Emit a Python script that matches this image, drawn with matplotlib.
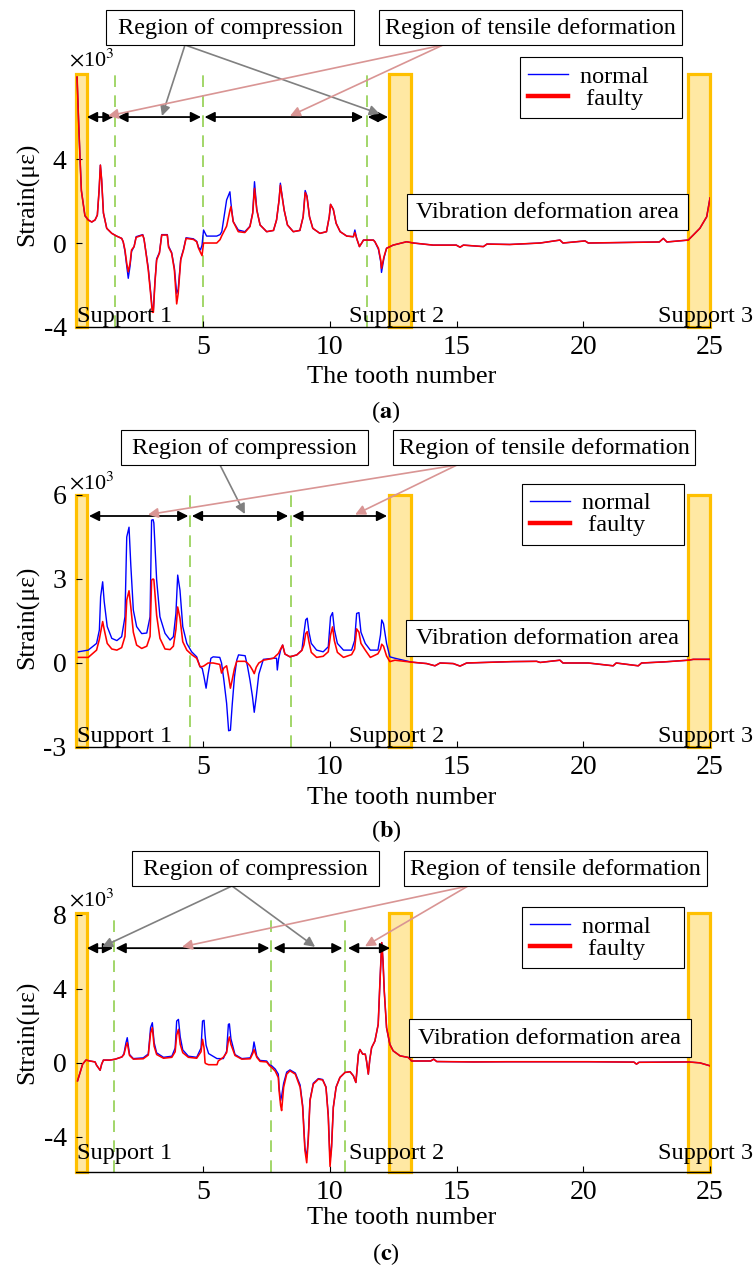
import matplotlib.pyplot as plt
from matplotlib.patches import Rectangle
from matplotlib.lines import Line2D

plt.rcParams['font.family'] = ['Liberation Serif', 'DejaVu Serif']
plt.rcParams['mathtext.fontset'] = 'stix'
plt.rcParams['axes.unicode_minus'] = False
FS = 17.5      # annotation text
TICK_FS = 20
XLAB_FS = 19
YLAB_FS = 18.5

# ---------------- data (strain in 10^3 microstrain) ----------------
tooth_a = [0.03, 0.1, 0.15, 0.2, 0.34, 0.47, 0.61, 0.74, 0.83, 0.9,
           0.95, 1.0, 1.07, 1.2, 1.4, 1.59, 1.79, 1.85, 1.92, 1.99,
           2.05, 2.12, 2.18, 2.28, 2.36, 2.62, 2.67, 2.75, 2.84, 2.93,
           3.0, 3.04, 3.1, 3.17, 3.28, 3.37, 3.59, 3.64, 3.76, 3.87,
           3.96, 4.02, 4.12, 4.23, 4.33, 4.62, 4.75, 4.82, 4.9, 4.96,
           5.02, 5.14, 5.54, 5.67, 5.74, 5.93, 6.06, 6.1, 6.19, 6.39,
           6.65, 6.85, 6.96, 7.03, 7.12, 7.25, 7.51, 7.78, 7.9, 8.0,
           8.05, 8.2, 8.33, 8.56, 8.82, 8.95, 9.03, 9.1, 9.2, 9.33,
           9.61, 9.87, 9.98, 10.03, 10.14, 10.25, 10.41, 10.67, 10.93, 10.99,
           11.06, 11.17, 11.26, 11.33, 11.72, 11.78, 11.92, 12.01, 12.04, 12.14,
           12.24, 12.5, 13.03, 13.3, 14.08, 14.99, 15.14, 15.27, 16.06, 16.2,
           17.1, 18.3, 19.08, 19.2, 20.07, 20.2, 23.0, 23.16, 23.3, 24.14,
           24.34, 24.6, 24.87, 25.0]
normal_a = [7.9, 5.5, 3.95, 2.5, 1.3, 1.1, 1.0, 1.1, 1.33, 2.52,
            3.71, 3.0, 1.43, 0.7, 0.46, 0.33, 0.22, 0.06, -0.4, -1.1,
            -1.68, -1.1, -0.4, -0.17, 0.3, 0.4, 0.2, -0.45, -1.2, -2.3,
            -3.2, -3.2, -1.9, -0.75, -0.45, 0.4, 0.4, -0.15, -0.45, -1.2,
            -2.4, -2.2, -0.75, -0.3, 0.25, 0.2, 0.08, -0.2, -0.33, -0.1,
            0.62, 0.33, 0.33, 0.4, 0.54, 2.05, 2.44, 1.9, 1.02, 0.62,
            0.54, 0.8, 1.45, 2.92, 1.6, 0.86, 0.54, 0.6, 1.1, 2.05,
            2.85, 1.57, 0.86, 0.54, 0.6, 1.25, 2.5, 2.25, 1.25, 0.7,
            0.46, 0.54, 1.25, 1.84, 1.6, 0.94, 0.54, 0.33, 0.3, 0.62,
            0.22, -0.17, 0.0, 0.14, 0.14, 0.06, -0.3, -0.9, -1.4, -0.7,
            -0.25, -0.1, 0.06, 0.0, -0.1, -0.1, -0.2, -0.1, -0.17, -0.05,
            -0.07, 0.0, 0.14, 0.0, 0.1, 0.0, 0.05, 0.22, 0.05, 0.14,
            0.38, 0.7, 1.25, 2.14]
faulty_a = [7.9, 5.5, 3.95, 2.5, 1.3, 1.1, 1.0, 1.1, 1.33, 2.52,
            3.71, 3.0, 1.43, 0.7, 0.46, 0.33, 0.22, 0.06, -0.33, -0.97,
            -1.37, -0.97, -0.33, -0.17, 0.27, 0.38, 0.2, -0.48, -1.29, -2.4,
            -3.3, -3.3, -1.92, -0.81, -0.48, 0.38, 0.38, -0.2, -0.48, -1.29,
            -2.9, -2.4, -0.81, -0.33, 0.22, 0.17, 0.06, -0.24, -0.45, -0.6,
            0.0, 0.0, 0.0, 0.16, 0.35, 0.8, 1.55, 1.73, 1.02, 0.54,
            0.5, 0.78, 1.41, 2.6, 1.57, 0.86, 0.54, 0.6, 1.1, 2.05,
            2.75, 1.57, 0.86, 0.54, 0.6, 1.25, 2.4, 2.2, 1.25, 0.7,
            0.46, 0.54, 1.25, 1.84, 1.6, 0.94, 0.54, 0.33, 0.3, 0.5,
            0.22, -0.17, 0.0, 0.14, 0.14, 0.06, -0.25, -0.81, -1.2, -0.65,
            -0.25, -0.1, 0.06, 0.0, -0.1, -0.1, -0.2, -0.1, -0.17, -0.05,
            -0.07, 0.0, 0.14, 0.0, 0.1, 0.0, 0.05, 0.22, 0.05, 0.14,
            0.38, 0.7, 1.25, 2.14]

tooth_b = [0.08, 0.47, 0.8, 0.91, 0.96, 1.04, 1.1, 1.22, 1.4, 1.6,
           1.79, 1.92, 1.99, 2.08, 2.15, 2.25, 2.38, 2.58, 2.78, 2.91,
           2.97, 3.03, 3.06, 3.17, 3.3, 3.5, 3.7, 3.83, 3.93, 4.0,
           4.09, 4.2, 4.36, 4.55, 4.75, 4.88, 4.97, 5.04, 5.12, 5.2,
           5.31, 5.4, 5.66, 5.73, 5.82, 5.93, 6.01, 6.08, 6.15, 6.24,
           6.33, 6.4, 6.66, 6.75, 6.85, 6.95, 7.02, 7.1, 7.2, 7.38,
           7.78, 7.9, 7.93, 7.98, 8.06, 8.14, 8.23, 8.43, 8.7, 8.9,
           8.98, 9.05, 9.11, 9.18, 9.27, 9.48, 9.74, 9.94, 10.03, 10.11,
           10.18, 10.3, 10.54, 10.86, 10.98, 11.06, 11.15, 11.23, 11.4, 11.6,
           11.9, 12.0, 12.05, 12.12, 12.24, 12.37, 12.57, 13.23, 13.82, 14.15,
           14.35, 14.87, 15.14, 15.4, 17.2, 18.16, 18.3, 19.08, 19.2, 20.2,
           21.18, 21.3, 22.17, 22.3, 23.2, 24.14, 24.34, 25.0]
normal_b = [0.4, 0.46, 0.7, 1.18, 2.37, 2.9, 2.2, 1.3, 0.88, 0.8,
            0.94, 1.65, 4.5, 4.85, 3.5, 1.89, 1.3, 1.05, 1.07, 1.65,
            5.1, 5.12, 5.0, 2.96, 1.65, 1.06, 0.82, 0.94, 1.77, 3.14,
            2.6, 1.3, 0.7, 0.4, 0.22, -0.13, -0.2, -0.5, -0.9, -0.4,
            0.17, 0.22, 0.2, 0.0, -0.6, -1.44, -2.42, -2.4, -1.5, -0.49,
            0.1, 0.29, 0.26, -0.1, -0.6, -1.2, -1.76, -1.2, -0.4, 0.13,
            0.17, 0.17, -0.25, 0.14, 0.46, 0.64, 0.32, 0.22, 0.29, 0.46,
            1.06, 1.54, 1.6, 1.1, 0.7, 0.46, 0.4, 0.58, 1.65, 1.8,
            1.2, 0.7, 0.46, 0.46, 0.8, 1.77, 1.8, 1.1, 0.7, 0.46,
            0.46, 1.0, 1.54, 1.4, 0.7, 0.22, 0.17, 0.03, -0.02, -0.1,
            0.0, -0.02, -0.11, 0.0, 0.05, 0.06, 0.02, 0.1, 0.0, 0.0,
            -0.1, 0.0, -0.1, 0.0, 0.04, 0.1, 0.13, 0.13]
faulty_b = [0.2, 0.2, 0.46, 0.85, 1.1, 1.48, 1.2, 0.7, 0.5, 0.46,
            0.55, 0.95, 2.25, 2.58, 2.0, 1.1, 0.64, 0.52, 0.6, 0.95,
            2.96, 3.0, 2.98, 1.7, 0.88, 0.5, 0.48, 0.6, 1.2, 2.0,
            1.6, 0.76, 0.46, 0.3, 0.17, -0.13, -0.13, -0.1, -0.05, 0.0,
            0.0, 0.0, -0.05, -0.36, -0.18, -0.1, -0.5, -0.9, -0.6, -0.2,
            0.06, 0.06, 0.06, 0.0, -0.1, -0.25, -0.38, -0.15, 0.0, 0.1,
            0.17, 0.28, 0.3, 0.35, 0.5, 0.64, 0.32, 0.22, 0.29, 0.45,
            0.65, 1.05, 1.12, 0.75, 0.38, 0.2, 0.24, 0.4, 1.0, 1.29,
            0.8, 0.38, 0.2, 0.3, 0.5, 1.22, 1.1, 0.7, 0.46, 0.2,
            0.33, 0.5, 0.67, 0.6, 0.25, 0.05, 0.1, 0.03, -0.02, -0.1,
            0.0, -0.02, -0.11, 0.0, 0.05, 0.06, 0.02, 0.1, 0.0, 0.0,
            -0.1, 0.0, -0.1, 0.0, 0.04, 0.1, 0.13, 0.13]

tooth_c = [0.05, 0.25, 0.38, 0.54, 0.74, 0.8, 0.94, 1.0, 1.07, 1.33,
           1.54, 1.8, 1.88, 1.96, 2.01, 2.1, 2.25, 2.64, 2.84, 2.93,
           3.0, 3.07, 3.17, 3.44, 3.77, 3.9, 3.96, 4.03, 4.1, 4.2,
           4.42, 4.75, 4.92, 4.98, 5.04, 5.08, 5.12, 5.22, 5.55, 5.6,
           5.8, 5.93, 6.0, 6.04, 6.1, 6.26, 6.53, 6.86, 6.96, 7.01,
           7.12, 7.25, 7.51, 7.62, 7.71, 7.85, 7.97, 8.0, 8.06, 8.1,
           8.18, 8.3, 8.43, 8.64, 8.83, 8.93, 9.02, 9.09, 9.15, 9.22,
           9.35, 9.55, 9.72, 9.85, 9.94, 10.01, 10.07, 10.14, 10.25, 10.4,
           10.6, 10.8, 10.93, 11.03, 11.13, 11.19, 11.3, 11.4, 11.45, 11.52,
           11.58, 11.65, 11.78, 11.91, 11.98, 12.05, 12.1, 12.15, 12.24, 12.37,
           12.5, 12.77, 13.1, 13.23, 13.98, 14.1, 14.22, 15.68, 17.0, 18.3,
           20.2, 22.0, 22.1, 22.2, 24.14, 24.6, 25.0]
normal_c = [-0.97, -0.07, 0.15, 0.1, 0.05, -0.13, -0.4, -0.07, 0.15, 0.15,
            0.2, 0.32, 0.5, 1.09, 1.36, 0.45, 0.23, 0.27, 0.48, 1.9,
            2.17, 1.1, 0.54, 0.3, 0.36, 0.8, 2.26, 2.35, 1.4, 0.7,
            0.36, 0.3, 0.8, 2.26, 2.3, 1.5, 0.95, 0.5, 0.23, 0.23,
            0.23, 0.63, 2.08, 2.11, 1.3, 0.45, 0.23, 0.27, 0.63, 1.13,
            0.36, 0.13, 0.1, -0.11, -0.16, -0.34, -0.61, -1.32, -2.04, -1.8,
            -1.1, -0.5, -0.38, -0.55, -1.2, -2.3, -4.6, -5.1, -4.1, -2.0,
            -1.1, -0.85, -0.9, -1.3, -2.8, -5.3, -4.5, -2.4, -1.3, -0.79,
            -0.52, -0.48, -0.7, -1.06, 0.47, 0.72, 0.47, 0.47, 0.1, -0.61,
            0.2, 0.82, 1.18, 2.08, 4.4, 6.5, 5.5, 3.87, 1.9, 1.0,
            0.65, 0.38, 0.29, 0.1, 0.1, 0.2, 0.07, 0.05, 0.06, 0.06,
            0.06, 0.04, -0.07, 0.03, 0.05, 0.0, -0.16]
faulty_c = [-0.97, -0.07, 0.15, 0.1, 0.05, -0.13, -0.4, -0.07, 0.15, 0.15,
            0.2, 0.32, 0.45, 0.9, 1.09, 0.4, 0.2, 0.22, 0.42, 1.6,
            1.9, 0.9, 0.45, 0.25, 0.3, 0.6, 1.5, 1.81, 1.0, 0.55,
            0.3, 0.25, 0.6, 1.27, 0.8, 0.0, -0.05, -0.1, -0.1, 0.1,
            0.3, 0.55, 1.2, 1.4, 1.0, 0.4, 0.2, 0.22, 0.5, 0.72,
            0.3, 0.08, 0.05, -0.15, -0.25, -0.45, -0.8, -1.5, -2.3, -2.58,
            -1.32, -0.61, -0.43, -0.61, -1.32, -2.4, -4.73, -5.4, -4.2, -2.04,
            -1.15, -0.88, -0.93, -1.32, -2.9, -5.6, -4.6, -2.4, -1.32, -0.79,
            -0.52, -0.48, -0.7, -1.06, 0.47, 0.72, 0.47, 0.47, 0.1, -0.61,
            0.2, 0.82, 1.18, 2.08, 4.4, 6.5, 5.5, 3.87, 1.9, 1.0,
            0.65, 0.38, 0.29, 0.1, 0.1, 0.2, 0.07, 0.05, 0.06, 0.06,
            0.06, 0.04, -0.07, 0.03, 0.05, 0.0, -0.16]

support_spans = [(0.0, 0.42), (12.33, 13.2), (24.13, 25.0)]
support_names = ['Support 1', 'Support 2', 'Support 3']
support_text_x = [0.03, 10.76, 22.95]

# ---------------- layout helpers (pixel positions of the 756x1270 picture) ----------------
W, H = 756, 1270


def fp(x, y):
    return (x / W, 1 - y / H)


panels = [
    dict(tooth=tooth_a, normal=normal_a, faulty=faulty_a, top=74, bot=327,
         ylim=(-4, 8.05), yticks=[-4, 0, 4], dashed=[1.54, 5.0, 11.47],
         spans=[(0.42, 1.47), (1.62, 4.92), (5.06, 11.32), (11.5, 12.3)], span_y=6.0,
         comp=(106, 354, 10, 45), tens=(379, 682, 10, 45), vib=(407, 688, 194, 230),
         gray_from=185, gray_to=[(3.38, 6.05), (11.97, 6.15)],
         pink_from=443, pink_to=[(1.25, 6.05), (8.43, 6.05)],
         leg=(0.956, 1.067), xlab_y=-0.154, ylab_y=0.526,
         sup_y=0.02, sci_y=1.055, tag='a', tag_y=412),
    dict(tooth=tooth_b, normal=normal_b, faulty=faulty_b, top=495, bot=747,
         ylim=(-3, 6), yticks=[-3, 0, 3, 6], dashed=[4.49, 8.47],
         spans=[(0.5, 4.42), (4.56, 8.36), (8.52, 12.26)], span_y=5.25,
         comp=(121, 368, 430, 465), tens=(393, 695, 430, 465), vib=(406, 688, 620, 656),
         gray_from=220, gray_to=[(6.65, 5.32)],
         pink_from=457, pink_to=[(2.83, 5.3), (11.0, 5.3)],
         leg=(0.959, 1.044), xlab_y=-0.159, ylab_y=0.514,
         sup_y=0.02, sci_y=1.048, tag='b', tag_y=831),
    dict(tooth=tooth_c, normal=normal_c, faulty=faulty_c, top=913, bot=1172,
         ylim=(-5.9, 8.1), yticks=[-4, 0, 4, 8], dashed=[1.5, 7.7, 10.6],
         spans=[(0.42, 1.45), (1.55, 7.62), (7.78, 10.5), (10.72, 12.38)], span_y=6.2,
         comp=(132, 379, 851, 886), tens=(404, 707, 851, 886), vib=(409, 691, 1019, 1057),
         gray_from=232, gray_to=[(1.02, 6.27), (9.42, 6.27)],
         pink_from=468, pink_to=[(4.17, 6.27), (11.39, 6.3)],
         leg=(0.959, 1.023), xlab_y=-0.135, ylab_y=0.539,
         sup_y=0.05, sci_y=1.05, tag='c', tag_y=1254),
]

fig = plt.figure(figsize=(7.56, 12.7), dpi=100)


def label_box(box, text):
    x0, x1, y0, y1 = box
    fig.patches.append(Rectangle(fp(x0, y1), (x1 - x0) / W, (y1 - y0) / H, transform=fig.transFigure,
                                 fc='white', ec='black', lw=0.8, zorder=5))
    fig.text(*fp((x0 + x1) / 2, (y0 + y1) / 2 + 1), text, fontsize=FS, ha='center', va='center', zorder=6)


for p in panels:
    left, right = 76.3, 710.0
    x0, y0 = fp(left, p['bot'])
    ax = fig.add_axes([x0, y0, (right - left) / W, (p['bot'] - p['top']) / H])
    ax.set_xlim(0, 25)
    ax.set_ylim(*p['ylim'])

    for (s0, s1) in support_spans:
        ax.add_patch(Rectangle((s0, 0), s1 - s0, 1, transform=ax.get_xaxis_transform(),
                               fc='#FFE8A3', ec='#FFC000', lw=2.3, zorder=1, clip_on=False))
    for xd in p['dashed']:
        ax.axvline(xd, color='#92D050', lw=1.2, ls=(0, (7, 5)), zorder=1.2)

    ax.plot(p['tooth'], p['normal'], color='blue', lw=1.0, zorder=3)
    ax.plot(p['tooth'], p['faulty'], color='red', lw=1.15, zorder=3.1)

    for (a0, a1) in p['spans']:
        ax.annotate('', xy=(a1, p['span_y']), xytext=(a0, p['span_y']),
                    arrowprops=dict(arrowstyle='<|-|>', color='black', lw=1.3,
                                    mutation_scale=15, shrinkA=0, shrinkB=0), zorder=4)

    for tgt in p['gray_to']:
        ax.annotate('', xy=tgt, xytext=fp(p['gray_from'], p['comp'][3]), textcoords='figure fraction',
                    arrowprops=dict(arrowstyle='-|>', color='#808080', lw=1.2,
                                    mutation_scale=15, shrinkA=0, shrinkB=0),
                    annotation_clip=False, zorder=4)
    for tgt in p['pink_to']:
        ax.annotate('', xy=tgt, xytext=fp(p['pink_from'], p['tens'][3]), textcoords='figure fraction',
                    arrowprops=dict(arrowstyle='-|>', color='#D99594', lw=1.2,
                                    mutation_scale=15, shrinkA=0, shrinkB=0),
                    annotation_clip=False, zorder=4)

    label_box(p['comp'], 'Region of compression')
    label_box(p['tens'], 'Region of tensile deformation')
    label_box(p['vib'], 'Vibration deformation area')

    for name, sx in zip(support_names, support_text_x):
        ax.text(sx, p['sup_y'], name, transform=ax.get_xaxis_transform(), fontsize=FS,
                ha='left', va='baseline', zorder=5, clip_on=False)

    handles = [Line2D([], [], color='blue', lw=1.0), Line2D([], [], color='red', lw=3.2)]
    leg = ax.legend(handles, ['normal    ', ' faulty'], loc='upper right', bbox_to_anchor=p['leg'],
                    borderaxespad=0, fontsize=FS, fancybox=False, framealpha=1,
                    edgecolor='black', handlelength=1.65, handletextpad=0.5,
                    labelspacing=0.0, borderpad=0.35)
    leg.get_frame().set_linewidth(0.8)

    ax.text(0.024, p['sci_y'], r'$\times$10$^3$', transform=ax.transAxes, fontsize=16,
            ha='center', va='center')

    ax.set_xticks([5, 10, 15, 20, 25])
    ax.set_yticks(p['yticks'])
    ax.set_yticklabels([str(v) for v in p['yticks']])
    ax.tick_params(direction='in', length=4, width=0.8, labelsize=TICK_FS)
    ax.tick_params(axis='x', pad=6)
    ax.tick_params(axis='y', pad=7)
    for side in ['top', 'right', 'left']:
        ax.spines[side].set_visible(False)
    ax.spines['bottom'].set_linewidth(1.0)

    ax.set_xlabel('The tooth number', fontsize=XLAB_FS)
    ax.xaxis.set_label_coords(0.514, p['xlab_y'])
    ax.set_ylabel('Strain(με)', fontsize=YLAB_FS)
    ax.yaxis.set_label_coords(-0.058, p['ylab_y'])

    fig.text(*fp(386, p['tag_y']), r'($\mathbf{%s}$)' % p['tag'], fontsize=FS, ha='center', va='center')

fig.savefig('out.png', dpi=100)
